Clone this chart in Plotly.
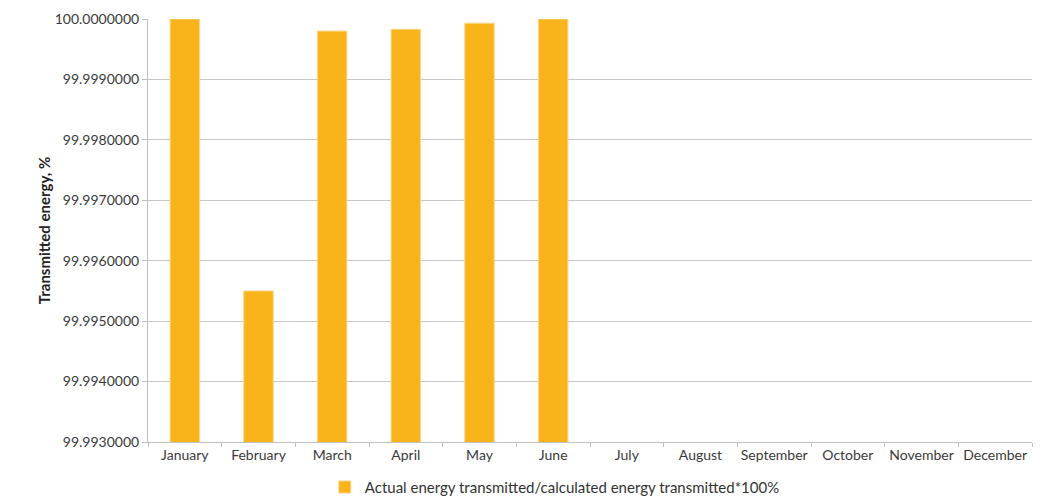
import plotly.graph_objects as go

months = ["January", "February", "March", "April", "May", "June",
          "July", "August", "September", "October", "November", "December"]
# Ratio of actual to calculated energy transmitted, % (no data yet for Jul-Dec)
transmitted = [100.0, 99.99550, 99.99980, 99.99983, 99.99993, 100.0,
               None, None, None, None, None, None]
y_ticks = [99.993, 99.994, 99.995, 99.996, 99.997, 99.998, 99.999, 100.0]
y_tick_text = ["99.9930000", "99.9940000", "99.9950000", "99.9960000",
               "99.9970000", "99.9980000", "99.9990000", "100.0000000"]
series_name = "Actual energy transmitted/calculated energy transmitted*100%"

font_family = "Lato, Open Sans, DejaVu Sans, sans-serif"

fig = go.Figure()
fig.add_trace(go.Bar(
    x=months,
    y=transmitted,
    name=series_name,
    marker=dict(color="#F9B31B", line=dict(color="#FCD68A", width=1)),
))

fig.update_layout(
    width=1055,
    height=501,
    margin=dict(l=148, r=23, t=19, b=59, autoexpand=False),
    paper_bgcolor="white",
    plot_bgcolor="white",
    bargap=0.6,
    showlegend=True,
    font=dict(family=font_family, size=14, color="#3A3A3A"),
    legend=dict(
        orientation="h",
        x=0.200, xanchor="left",
        y=-0.107, yanchor="middle",
        itemwidth=30,
        font=dict(size=15, color="#333333"),
    ),
    xaxis=dict(
        type="category",
        categoryorder="array",
        categoryarray=months,
        range=[-0.5, 11.5],
        automargin=False,
        tickangle=0,
        showline=True,
        linecolor="#BFBFBF",
        linewidth=1,
        ticks="outside",
        tickson="boundaries",
        ticklen=4,
        tickcolor="#BFBFBF",
        showgrid=False,
        tickfont=dict(size=14, color="#3A3A3A"),
    ),
    yaxis=dict(
        range=[99.993, 100.0],
        tickvals=y_ticks,
        ticktext=y_tick_text,
        automargin=False,
        showline=True,
        linecolor="#BFBFBF",
        linewidth=1,
        ticks="outside",
        ticklen=5,
        tickcolor="#BFBFBF",
        showgrid=True,
        gridcolor="#C8C8C8",
        gridwidth=1,
        zeroline=False,
        tickfont=dict(size=14, color="#3A3A3A"),
        title=dict(
            text="<b>Transmitted energy, %</b>",
            font=dict(size=15, color="#222222"),
            standoff=0,
        ),
    ),
)

fig.write_html("out.html")
